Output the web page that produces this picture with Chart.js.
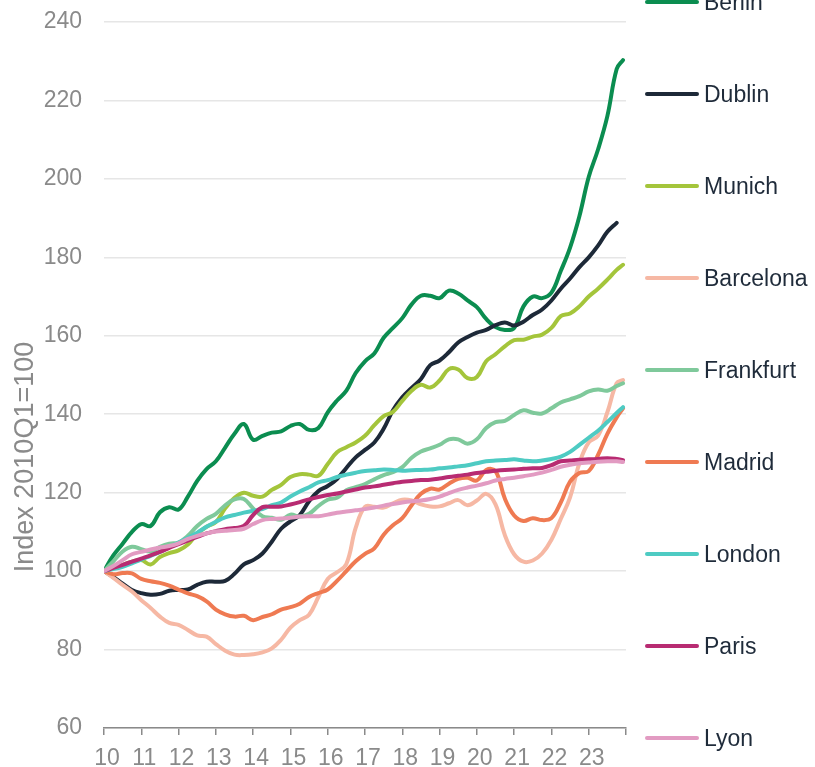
<!DOCTYPE html>
<html>
<head>
<meta charset="utf-8">
<script src="https://cdn.jsdelivr.net/npm/chart.js@4.4.0/dist/chart.umd.min.js"></script>
<style>
  html, body { margin: 0; padding: 0; background: #ffffff; overflow: hidden; }
  #wrap { position: relative; width: 815px; height: 767px; }
  #line-chart { position: absolute; left: 0; top: 0; }
  .legend-item {
    position: absolute; left: 645px; height: 30px;
    display: flex; align-items: center;
    font: 23px "Liberation Sans", Arial, sans-serif; color: #1f2b3a;
    white-space: nowrap;
  }
  .legend-item .swatch { width: 54px; height: 4px; border-radius: 2px; margin-right: 5px; }
</style>
</head>
<body>
<div id="wrap">
  <canvas id="line-chart" width="815" height="767"></canvas>
  <div id="legend"></div>
</div>
<script>
// Time axis: quarterly readings from 2010Q1, plus the latest reading
const periods = Array.from({ length: 56 }, (_, i) => 2010 + i / 4).concat([2023.92]);
const yearTicks = [2010, 2011, 2012, 2013, 2014, 2015, 2016, 2017, 2018, 2019, 2020, 2021, 2022, 2023, 2024];

// House price index, 2010Q1 = 100
const berlin = [100, 104, 107, 110, 112, 111.5, 115, 116.3, 115.7, 119, 123, 126, 128, 131.5, 135, 137.5, 133.5, 134.5, 135.3, 135.6, 137, 137.5, 136, 136.5, 140.5, 143.5, 146, 150.5, 153.5, 155.5, 159.5, 162, 164.5, 168, 170.2, 170.2, 169.6, 171.5, 170.8, 169, 167.3, 164.3, 162.2, 161.5, 162, 167.5, 170, 169.6, 171, 176.5, 182.5, 190.5, 200.5, 207.5, 216, 228, 230.3];
const dublin = [100, 98.5, 96.8, 95.2, 94.4, 94, 94.2, 95, 95.2, 95.3, 96.5, 97.3, 97.3, 97.5, 99.3, 101.7, 102.8, 104.5, 107.5, 110.8, 112.7, 114.3, 117.8, 120.4, 121.7, 123.5, 126.3, 129, 130.9, 132.8, 136.3, 141, 144.3, 146.7, 149, 152.5, 153.7, 155.8, 158.3, 159.7, 160.8, 161.5, 162.7, 163.4, 162.6, 163.6, 165.3, 166.7, 169, 172, 174.6, 177.5, 180, 183, 186.5, 188.8, null];
const munich = [100, 100.8, 101.6, 102.4, 102.8, 101.7, 103.6, 104.6, 105.3, 106.8, 109.5, 111.3, 112.5, 116, 118.7, 120, 119.2, 119, 120.7, 122, 124, 124.7, 124.6, 124.3, 127.3, 130.3, 131.6, 132.8, 134.5, 137.2, 139.5, 140.6, 143.4, 146, 147.5, 146.8, 148.6, 151.5, 151.4, 149.2, 149.5, 153.5, 155.3, 157.3, 158.9, 159, 159.8, 160.3, 162, 165, 165.7, 167.5, 170, 172, 174.3, 176.8, 178.1];
const barcelona = [100, 98.3, 96.5, 94.8, 92.6, 90.6, 88.4, 86.8, 86.3, 85, 83.6, 83.3, 81.4, 79.7, 78.7, 78.6, 78.8, 79.3, 80.3, 82.5, 85.6, 87.5, 88.9, 93.4, 98, 99.7, 101.8, 111, 116.4, 116.4, 116.2, 117.3, 118.2, 118, 117, 116.5, 116.5, 117.3, 118.1, 116.8, 118, 119.7, 117, 109.2, 104.3, 102.4, 102.7, 104.5, 108, 113.3, 118.8, 127.5, 132.8, 134.5, 140.5, 147.9, 148.7];
const frankfurt = [100, 102.5, 105, 106.2, 105.6, 105, 106.2, 107, 107.3, 109, 111.5, 113.3, 114.6, 116.8, 118.3, 118.4, 116, 114, 113.6, 113.1, 114.4, 113.9, 114.6, 116.6, 118.2, 118.7, 120.6, 121.4, 122.2, 123.4, 124.5, 125.2, 126.5, 128.9, 130.5, 131.3, 132.2, 133.6, 133.6, 132.5, 133.6, 136.5, 138, 138.3, 139.8, 141, 140.4, 140.2, 141.5, 143, 143.8, 144.6, 145.8, 146.3, 146, 147.2, 147.9];
const madrid = [100, 99.2, 99.5, 99.4, 98, 97.4, 97, 96.3, 95.3, 94.3, 93.6, 92.3, 90.2, 89, 88.4, 88.6, 87.5, 88.3, 89, 90.2, 90.8, 91.7, 93.4, 94.4, 95.3, 97.5, 100, 102.5, 104.4, 105.8, 109.3, 111.7, 113.5, 116.8, 119.7, 121, 120.8, 122.3, 123.5, 123.8, 123.1, 125.8, 125.5, 118.5, 114.2, 112.8, 113.5, 113, 113.5, 117.5, 122.8, 125, 125.5, 129.6, 135, 139.2, 141.5];
const london = [100, 100.5, 101.1, 102, 102.9, 103.9, 104.9, 106.1, 107.3, 108.5, 109.8, 111.3, 112.6, 113.7, 114.3, 114.9, 115.4, 115.8, 116.8, 117.5, 119, 120.3, 121.4, 122.6, 123.2, 124, 124.6, 125.1, 125.5, 125.7, 125.9, 125.8, 125.6, 125.7, 125.8, 125.9, 126.2, 126.4, 126.7, 127, 127.5, 128, 128.2, 128.3, 128.5, 128.2, 128, 128.2, 128.6, 129.2, 130.4, 132.2, 134, 135.8, 138, 140.3, 141.8];
const paris = [100, 100.8, 101.6, 102.4, 103.2, 104, 104.9, 105.9, 106.9, 107.8, 108.7, 109.6, 110.2, 110.7, 111, 111.5, 114.3, 116.3, 116.4, 116.5, 117, 117.6, 118.3, 118.9, 119.4, 119.8, 120.3, 120.8, 121.3, 121.6, 122, 122.4, 122.8, 123, 123.2, 123.3, 123.6, 124, 124.3, 124.6, 125, 125.3, 125.6, 125.8, 125.9, 126.1, 126.2, 126.3, 127, 128, 128.2, 128.4, 128.5, 128.6, 128.8, 128.6, 128.3];
const lyon = [100, 101.3, 102.8, 104.3, 104.9, 105.5, 106, 106.4, 107.1, 108.2, 109, 109.6, 110.1, 110.3, 110.5, 110.8, 112, 113, 113.3, 113.4, 113.6, 113.9, 114, 114, 114.4, 114.9, 115.2, 115.5, 115.8, 116.2, 116.7, 117.1, 117.5, 117.8, 118, 118.4, 119, 119.9, 120.7, 121.3, 121.8, 122.4, 123.1, 123.5, 123.8, 124.2, 124.6, 125.1, 125.8, 126.6, 127.1, 127.5, 127.7, 127.9, 128, 128, 127.8];

const cities = ["Berlin", "Dublin", "Munich", "Barcelona", "Frankfurt", "Madrid", "London", "Paris", "Lyon"];
const series = [berlin, dublin, munich, barcelona, frankfurt, madrid, london, paris, lyon];
const colors = ["#0b8d50", "#1d2938", "#a4c53b", "#f6b8a4", "#7fc99b", "#ef7a52", "#4ecbc3", "#b82b72", "#e29bc2"];

// Y axis ticks
const yMin = 60, yMax = 240, yStep = 20;

const axisGray = "#8a8a8a",
  gridGray = "#e6e6e6",
  fontFamily = '"Liberation Sans", Arial, sans-serif';

const datasets = cities.map((city, i) => ({
  label: city,
  data: series[i].map((v, k) => ({ x: periods[k], y: v })),
  borderColor: colors[i],
  backgroundColor: colors[i],
  borderWidth: 4,
  pointRadius: 0,
  tension: 0.4,
  borderCapStyle: "round",
  borderJoinStyle: "round",
  spanGaps: false,
  order: cities.length - 1 - i,
}));

// Rotated axis title on the left
const axisTitle = {
  id: "axisTitle",
  afterDraw(chart) {
    const ctx = chart.ctx;
    ctx.save();
    ctx.translate(26, 457);
    ctx.rotate(-Math.PI / 2);
    ctx.font = "27px " + fontFamily;
    ctx.fillStyle = axisGray;
    ctx.textAlign = "center";
    ctx.textBaseline = "middle";
    ctx.fillText("Index 2010Q1=100", 0, 0);
    ctx.restore();
  },
};

const myChart = new Chart(document.getElementById("line-chart"), {
  type: "line",
  data: { datasets },
  options: {
    responsive: false,
    animation: false,
    layout: { padding: { top: 22, right: 189, bottom: 0, left: 0 } },
    plugins: { legend: { display: false }, tooltip: { enabled: false } },
    scales: {
      x: {
        type: "linear",
        min: 2010,
        max: 2024,
        afterBuildTicks: (scale) => {
          scale.ticks = yearTicks.map((v) => ({ value: v }));
        },
        afterFit: (scale) => {
          scale.height = 39;
        },
        border: { display: true, color: axisGray, width: 1.5 },
        grid: { drawOnChartArea: false, drawTicks: true, tickLength: 7, color: axisGray, lineWidth: 1.5 },
        ticks: {
          autoSkip: false,
          maxRotation: 0,
          padding: 10,
          labelOffset: 3,
          color: axisGray,
          font: { size: 23, family: fontFamily },
          callback: (v) => (v < 2024 ? String(v).slice(2) : ""),
        },
      },
      y: {
        min: yMin,
        max: yMax,
        afterFit: (scale) => {
          scale.width = 104;
        },
        border: { display: false },
        // invisible tick marks keep the labels clear of the plot
        grid: { color: gridGray, lineWidth: 1.5, drawTicks: true, tickLength: 22, tickColor: "rgba(0,0,0,0)" },
        ticks: {
          stepSize: yStep,
          padding: 0,
          color: axisGray,
          font: { size: 23, family: fontFamily },
        },
      },
    },
  },
  plugins: [axisTitle],
});

// Legend on the right, one row per city
const legendElement = document.getElementById("legend");
cities.forEach((city, i) => {
  const item = document.createElement("div");
  item.className = "legend-item";
  item.style.top = 2 + i * 92 - 15 + "px";
  item.innerHTML = `<span class="swatch" style="background:${colors[i]}"></span>${city}`;
  legendElement.appendChild(item);
});
</script>
</body>
</html>
